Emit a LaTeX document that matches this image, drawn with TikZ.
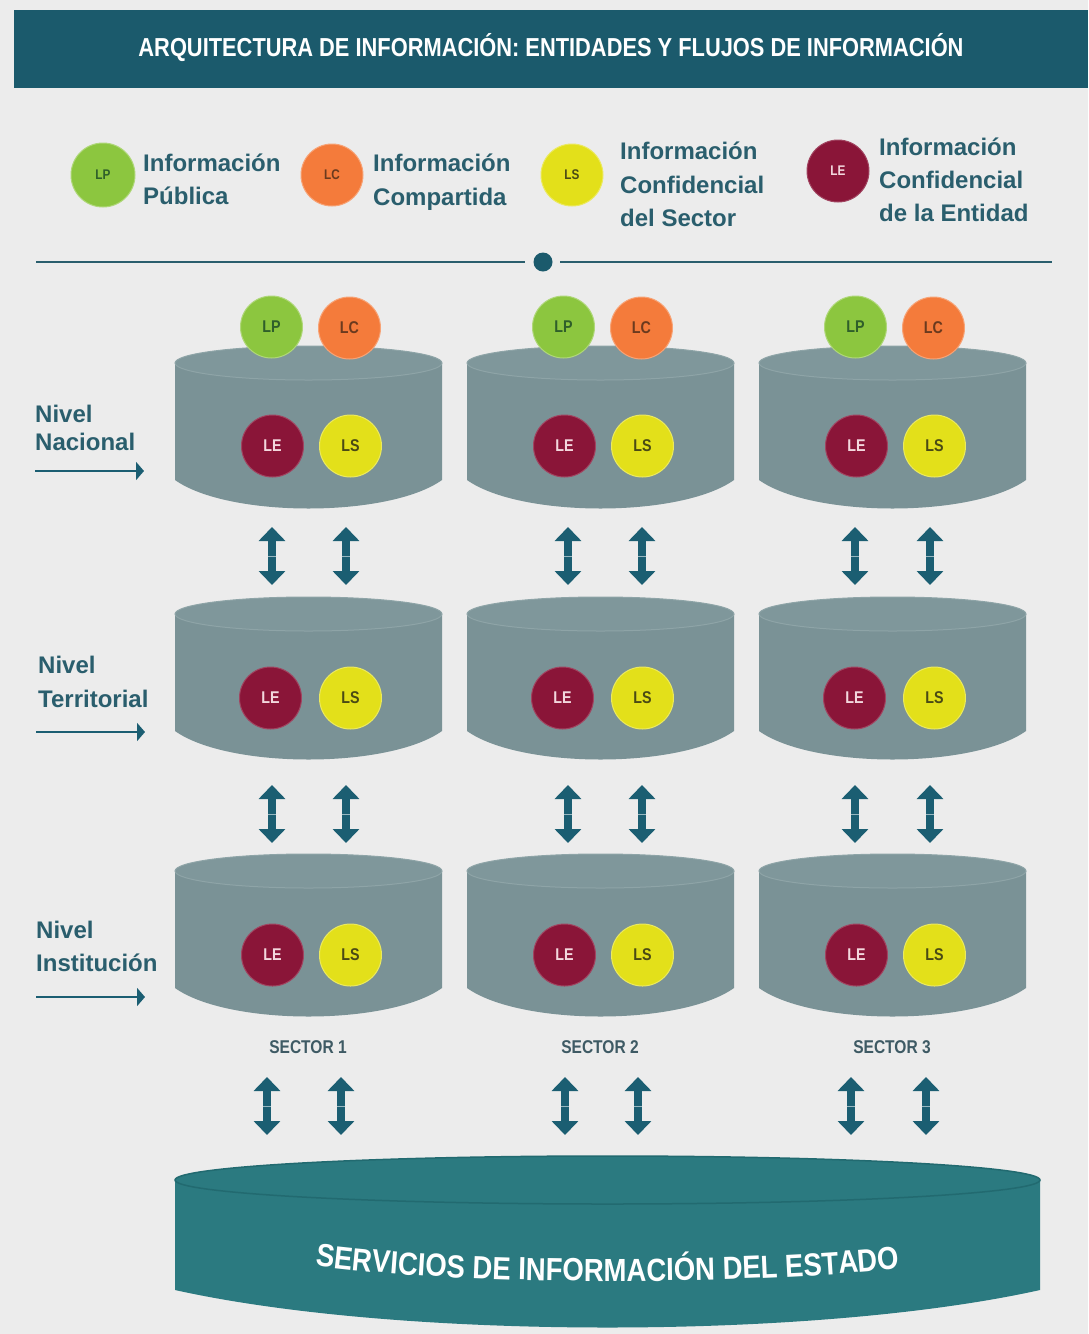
\documentclass[tikz,border=0pt]{standalone}
\usepackage{fontspec}
\setmainfont{Liberation Sans}
\newfontfamily\narrowfont[FakeStretch=0.84]{Liberation Sans}
\newfontfamily\stadofont[FakeStretch=0.86]{Liberation Sans}
\usetikzlibrary{arrows.meta,decorations.text}
\definecolor{bg}{HTML}{ECECEC}
\definecolor{hdr}{HTML}{1B5A6C}
\definecolor{txt}{HTML}{2A5E6D}
\definecolor{cylg}{HTML}{7A9296}
\definecolor{cylt}{HTML}{7F979B}
\definecolor{cyledge}{HTML}{8EA4A7}
\definecolor{arr}{HTML}{1B5E72}
\definecolor{lpc}{HTML}{8CC63F}
\definecolor{lcc}{HTML}{F47B3B}
\definecolor{lsc}{HTML}{E3E01A}
\definecolor{lec}{HTML}{8A1538}
\definecolor{lptx}{HTML}{2F5F2A}
\definecolor{lctx}{HTML}{6B3A1E}
\definecolor{lstx}{HTML}{4A4A14}
\definecolor{letx}{HTML}{F3D7DD}
\definecolor{stado}{HTML}{2B7A80}
\definecolor{stadoedge}{HTML}{226A70}
\definecolor{sect}{HTML}{3E5A64}
\newcommand\mycyl[3]{%
  \fill[cylg] ({#1-133.5},#2) -- ({#1-133.5},{#2+117})
     .. controls ({#1-80},{#2+155}) and ({#1+80},{#2+155}) .. ({#1+133.5},{#2+117})
     -- ({#1+133.5},#2) -- cycle;
  \filldraw[fill=cylt, draw=cyledge, line width=1pt] (#1,#2) ellipse [x radius=133.5pt, y radius=17pt];
  \coordinate (#3) at (#1,{#2+60});
}
\newcommand\vdbl[4]{%
  \coordinate (#4t) at (#1,#2);
  \coordinate (#4b) at (#1,#3);
  \coordinate (#4l) at ({#1-4},{(#2+#3)/2});
  \coordinate (#4r) at ({#1+4},{(#2+#3)/2});
  \draw[varr] (#4t) -- (#4b);
  \draw[arr!45!white, line width=0.8pt] (#4l) -- (#4r);
}
\begin{document}
\begin{tikzpicture}[x=1pt,y=-1pt,
  circ/.style={circle, minimum size=62pt, inner sep=0pt, line width=1pt, font=\narrowfont\fontsize{17}{17}\selectfont\bfseries},
  lp/.style={circ, fill=lpc, draw=lpc!70!white, text=lptx},
  lc/.style={circ, fill=lcc, draw=lcc!70!white, text=lctx},
  ls/.style={circ, fill=lsc, draw=lsc!70!white, text=lstx},
  le/.style={circ, fill=lec, draw=lec!80!white, text=letx},
  legc/.style={font=\narrowfont\fontsize{14}{14}\selectfont\bfseries},
  legtxt/.style={anchor=base west, inner sep=0pt, text=txt, font=\fontsize{24}{24}\selectfont\bfseries},
  sectxt/.style={anchor=base, inner sep=0pt, text=sect, font=\narrowfont\fontsize{18.5}{18.5}\selectfont\bfseries},
  varr/.style={draw=arr, line width=8pt, {Triangle[width=26pt,length=14pt]}-{Triangle[width=26pt,length=14pt]}},
  larr/.style={draw=arr, line width=2.5pt, -{Triangle[width=18pt,length=8pt]}},
  sepline/.style={draw=txt, line width=2.6pt}
]
\useasboundingbox (0,0) rectangle (1088,1334);
\fill[bg] (0,0) rectangle (1088,1334);

% header
\fill[hdr] (14,10) rectangle (1088,88);
\node[text=white, font=\narrowfont\fontsize{26}{26}\selectfont\bfseries] (title) at (551,48)
  {ARQUITECTURA DE INFORMACIÓN: ENTIDADES Y FLUJOS DE INFORMACIÓN};

% legend
\node[lp, minimum size=64pt, legc] (klp) at (103,175) {LP};
\node[lc, legc] (klc) at (332,175) {LC};
\node[ls, legc] (kls) at (572,175) {LS};
\node[le, legc] (kle) at (838,171) {LE};
\node[legtxt] (tlp1) at (143,171) {Información};
\node[legtxt] (tlp2) at (143,204) {Pública};
\node[legtxt] (tlc1) at (373,171) {Información};
\node[legtxt] (tlc2) at (373,205) {Compartida};
\node[legtxt] (tls1) at (620,159) {Información};
\node[legtxt] (tls2) at (620,193) {Confidencial};
\node[legtxt] (tls3) at (620,226) {del Sector};
\node[legtxt] (tle1) at (879,155) {Información};
\node[legtxt] (tle2) at (879,188) {Confidencial};
\node[legtxt] (tle3) at (879,221) {de la Entidad};

% separator
\coordinate (s1) at (36,262);
\coordinate (s2) at (525,262);
\coordinate (s3) at (560,262);
\coordinate (s4) at (1052,262);
\draw[sepline] (s1) -- (s2);
\draw[sepline] (s3) -- (s4);
\node[circle, fill=hdr, minimum size=19pt, inner sep=0pt] (sdot) at (543,262) {};

% cylinders
\foreach \cx/\i in {308.5/1,600.5/2,892.5/3}{
  \mycyl{\cx}{363}{cn\i}
  \mycyl{\cx}{614}{ct\i}
  \mycyl{\cx}{871}{ci\i}
}
\foreach \cx/\i in {308.5/1,600.5/2,892.5/3}{
  \node[lp] (lp\i) at ({\cx-37},327) {LP};
  \node[lc] (lc\i) at ({\cx+41},328) {LC};
  \node[le] (len\i) at ({\cx-36},446) {LE};
  \node[ls] (lsn\i) at ({\cx+42},446) {LS};
  \node[le] (let\i) at ({\cx-38},698) {LE};
  \node[ls] (lst\i) at ({\cx+42},698) {LS};
  \node[le] (lei\i) at ({\cx-36},955) {LE};
  \node[ls] (lsi\i) at ({\cx+42},955) {LS};
  \node[sectxt] (sec\i) at ({\cx-0.5},1053) {SECTOR \i};
}

% vertical double arrows
\foreach \x/\n in {272/a,346/b,568/c,642/d,855/e,930/f}{
  \vdbl{\x}{527}{585}{r1\n}
  \vdbl{\x}{785}{843}{r2\n}
}
\foreach \x/\n in {267/a,341/b,565/c,638/d,851/e,926/f}{
  \vdbl{\x}{1077}{1135}{r3\n}
}

% level labels
\node[legtxt] (nv1) at (35,422) {Nivel};
\node[legtxt] (nv1b) at (35,450) {Nacional};
\coordinate (an1) at (35,471);
\coordinate (an2) at (144,471);
\draw[larr] (an1) -- (an2);
\node[legtxt] (nv2) at (38,673) {Nivel};
\node[legtxt] (nv2b) at (38,707) {Territorial};
\coordinate (at1) at (36,732);
\coordinate (at2) at (145,732);
\draw[larr] (at1) -- (at2);
\node[legtxt] (nv3) at (36,938) {Nivel};
\node[legtxt] (nv3b) at (36,971) {Institución};
\coordinate (ai1) at (36,997);
\coordinate (ai2) at (145,997);
\draw[larr] (ai1) -- (ai2);

% bottom cylinder
\fill[stado] (175,1180) -- (175,1290)
   .. controls (400,1340) and (815,1340) .. (1040,1290) -- (1040,1180) -- cycle;
\filldraw[fill=stado, draw=stadoedge, line width=1.5pt] (607.5,1180) ellipse [x radius=432.5pt, y radius=24pt];
\coordinate (stado) at (607.5,1250);
\path[decorate, decoration={text along path, text color=white, text align=center,
   text={|\stadofont\fontsize{32}{32}\selectfont\bfseries|SERVICIOS DE INFORMACIÓN DEL ESTADO}}]
   (290,1262) .. controls (450,1288) and (760,1286) .. (925,1266);
\end{tikzpicture}
\end{document}
